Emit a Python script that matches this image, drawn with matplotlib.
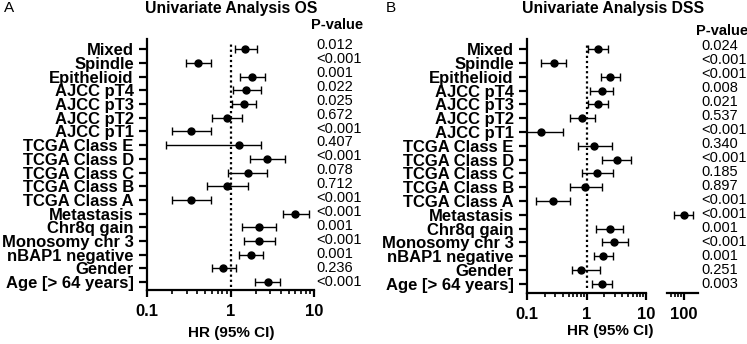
import matplotlib
matplotlib.use("Agg")
import matplotlib.pyplot as plt
import matplotlib.ticker as mticker
import numpy as np

plt.rcParams['font.family'] = ['Liberation Sans', 'DejaVu Sans']

labels = ["Mixed", "Spindle", "Epithelioid", "AJCC pT4", "AJCC pT3", "AJCC pT2",
          "AJCC pT1", "TCGA Class E", "TCGA Class D", "TCGA Class C", "TCGA Class B",
          "TCGA Class A", "Metastasis", "Chr8q gain", "Monosomy chr 3",
          "nBAP1 negative", "Gender", "Age [> 64 years]"]

# Panel A: OS
os_hr = [1.51, 0.41, 1.82, 1.55, 1.44, 0.91, 0.34, 1.28, 2.75, 1.63, 0.90, 0.34,
         5.95, 2.21, 2.22, 1.77, 0.82, 2.80]
os_lo = [1.12, 0.295, 1.29, 1.07, 1.04, 0.60, 0.20, 0.17, 1.69, 0.93, 0.52, 0.20,
         4.27, 1.37, 1.44, 1.27, 0.60, 1.96]
os_hi = [2.09, 0.59, 2.58, 2.29, 2.01, 1.39, 0.58, 2.29, 4.55, 2.75, 1.61, 0.58,
         8.66, 3.49, 3.37, 2.44, 1.15, 3.97]
os_p = ["0.012", "<0.001", "0.001", "0.022", "0.025", "0.672", "<0.001", "0.407",
        "<0.001", "0.078", "0.712", "<0.001", "<0.001", "0.001", "<0.001", "0.001",
        "0.236", "<0.001"]

# Panel B: DSS
dss_hr = [1.58, 0.283, 2.49, 1.82, 1.58, 0.845, 0.175, 1.35, 3.22, 1.52, 0.96, 0.27,
          98.0, 2.45, 2.94, 1.92, 0.80, 1.84]
dss_lo = [1.07, 0.173, 1.73, 1.15, 1.07, 0.535, 0.07, 0.73, 1.84, 0.83, 0.53, 0.142,
          69.0, 1.42, 1.80, 1.35, 0.56, 1.26]
dss_hi = [2.33, 0.45, 3.72, 2.79, 2.33, 1.40, 0.41, 2.65, 5.57, 2.79, 1.84, 0.52,
          140.0, 4.12, 4.89, 2.83, 1.66, 2.72]
dss_p = ["0.024", "<0.001", "<0.001", "0.008", "0.021", "0.537", "<0.001", "0.340",
         "<0.001", "0.185", "0.897", "<0.001", "<0.001", "0.001", "<0.001", "0.001",
         "0.251", "0.003"]

xt_main = [0.1, 1, 10]
xt_main_lbl = ["0.1", "1", "10"]
xt_brk = [100]
xt_brk_lbl = ["100"]

W, H = 747, 344
fig = plt.figure(figsize=(W / 100, H / 100), dpi=100)


def add_ax(l, r, t, b):
    ax = fig.add_axes([l / W, 1 - b / H, (r - l) / W, (b - t) / H])
    ax.set_xscale('log')
    return ax


def style(ax, left=True):
    for s in ['top', 'right']:
        ax.spines[s].set_visible(False)
    ax.spines['bottom'].set_linewidth(1.6)
    ax.spines['left'].set_linewidth(1.6)
    if not left:
        ax.spines['left'].set_visible(False)
    ax.tick_params(axis='x', which='major', length=5, width=1.6, direction='out',
                   labelsize=12, pad=5)
    ax.tick_params(axis='x', which='minor', length=3, width=1.2, direction='out')
    ax.tick_params(axis='y', length=6, width=1.6, direction='out', pad=3.5,
                   labelsize=12)
    ax.xaxis.set_minor_locator(mticker.LogLocator(base=10, subs=np.arange(2, 10)))
    ax.xaxis.set_minor_formatter(mticker.NullFormatter())


def set_xt(ax, ticks, lbls):
    ax.xaxis.set_major_locator(mticker.FixedLocator(ticks))
    ax.xaxis.set_major_formatter(mticker.FixedFormatter(lbls))
    for t in ax.get_xticklabels():
        t.set_fontweight('bold')


def draw(ax, idx, hr, lo, hi):
    hr = np.array(hr)
    lo = np.array(lo)
    hi = np.array(hi)
    ax.errorbar(hr, idx, xerr=[hr - lo, hi - hr], fmt='o', color='black',
                ms=5, elinewidth=1.0, capsize=2.8, capthick=1.0, clip_on=True)


n = len(labels)
rows = np.arange(n)

# ---------------- Panel A ----------------
axA = add_ax(147, 314, 39, 290)
draw(axA, rows, os_hr, os_lo, os_hi)
axA.set_xlim(0.1, 10)
axA.set_ylim(17.57, -0.75)
axA.axvline(1, ymin=0.01, ymax=0.985, color='black', lw=1.6,
            linestyle=(0, (1, 1.3)), zorder=1)
axA.set_yticks(rows)
axA.set_yticklabels(labels, fontweight='bold')
style(axA)
set_xt(axA, xt_main, xt_main_lbl)
fig.text(231 / W, 1 - 333 / H, "HR (95% CI)", ha='center', va='center',
         fontsize=11, fontweight='bold')

fig.text(231 / W, 1 - 8 / H, "Univariate Analysis OS", ha='center', va='center',
         fontsize=11.3, fontweight='bold')
fig.text(4 / W, 1 - 8 / H, "A", ha='left', va='center', fontsize=11)
fig.text(311 / W, 1 - 25 / H, "P-value", ha='left', va='center', fontsize=10.5,
         fontweight='bold')
for i, p in enumerate(os_p):
    fig.text(316.5 / W, 1 - (45 + i * 13.92) / H, p, ha='left', va='center',
             fontsize=10.5)

# ---------------- Panel B ----------------
axB = add_ax(527, 646, 39, 292.7)
axB2 = add_ax(666.7, 697.7, 39, 292.7)
draw(axB, rows, dss_hr, dss_lo, dss_hi)
draw(axB2, rows, dss_hr, dss_lo, dss_hi)
for ax in (axB, axB2):
    ax.set_ylim(17.65, -0.75)
axB.set_xlim(0.1, 10)
axB2.set_xlim(51, 170)
axB.axvline(1, ymin=0.02, ymax=0.985, color='black', lw=1.6,
            linestyle=(0, (1, 1.3)), zorder=1)
axB.set_yticks(rows)
axB.set_yticklabels(labels, fontweight='bold')
axB2.set_yticks([])
axB2.patch.set_visible(False)
style(axB)
style(axB2, left=False)
set_xt(axB, xt_main, xt_main_lbl)
set_xt(axB2, xt_brk, xt_brk_lbl)
fig.text(610 / W, 1 - 331.5 / H, "HR (95% CI)", ha='center', va='center',
         fontsize=11, fontweight='bold')

fig.text(613 / W, 1 - 8 / H, "Univariate Analysis DSS", ha='center', va='center',
         fontsize=11.3, fontweight='bold')
fig.text(386 / W, 1 - 8 / H, "B", ha='left', va='center', fontsize=11)
fig.text(696 / W, 1 - 31 / H, "P-value", ha='left', va='center', fontsize=10.5,
         fontweight='bold')
for i, p in enumerate(dss_p):
    fig.text(701 / W, 1 - (46 + i * 13.98) / H, p, ha='left', va='center',
             fontsize=10.5)

fig.savefig("out.png", dpi=100)
